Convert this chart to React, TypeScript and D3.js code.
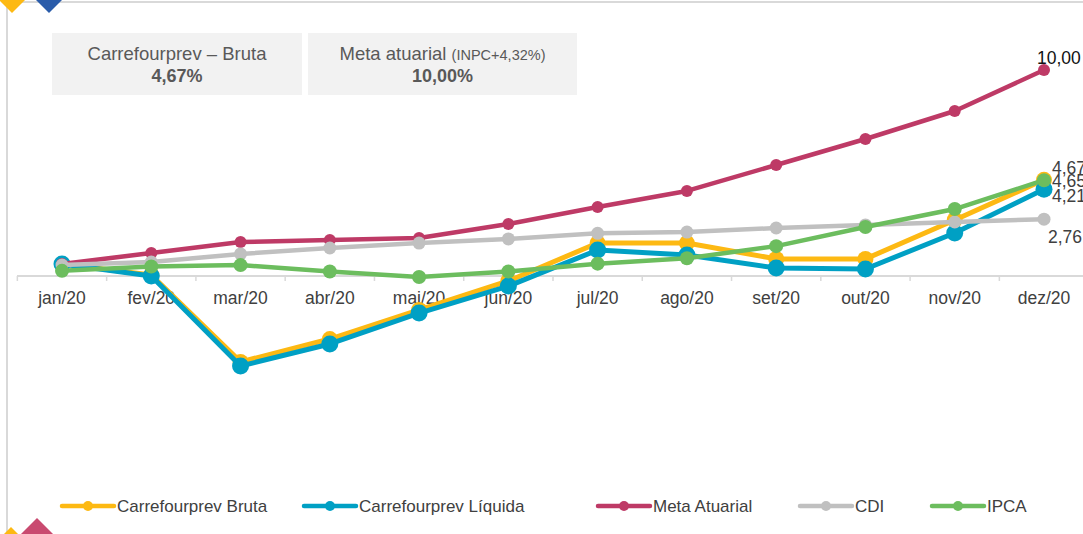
import React, { useEffect, useRef } from 'react';
import * as d3 from 'd3';

const months = ['jan/20', 'fev/20', 'mar/20', 'abr/20', 'mai/20', 'jun/20', 'jul/20', 'ago/20', 'set/20', 'out/20', 'nov/20', 'dez/20'];
const bruta = [0.58, 0.05, -4.17, -3.06, -1.65, -0.24, 1.6, 1.6, 0.83, 0.83, 2.72, 4.67];
const liquida = [0.58, 0.0, -4.37, -3.3, -1.8, -0.49, 1.26, 1.02, 0.39, 0.34, 2.09, 4.21];
const meta = [0.58, 1.12, 1.65, 1.75, 1.84, 2.52, 3.35, 4.13, 5.39, 6.65, 8.01, 10.0];
const cdi = [0.53, 0.68, 1.07, 1.36, 1.6, 1.8, 2.07, 2.13, 2.33, 2.48, 2.62, 2.76];
const ipca = [0.25, 0.46, 0.53, 0.22, -0.05, 0.22, 0.6, 0.86, 1.45, 2.38, 3.25, 4.65];
const endLabels = ['4,67', '4,21', '10,00', '2,76', '4,65'];

const series = [
  { name: 'Carrefourprev Bruta', values: bruta, color: '#FDB913', r: 8, w: 5 },
  { name: 'Carrefourprev Líquida', values: liquida, color: '#00A0C4', r: 8.5, w: 5 },
  { name: 'Meta Atuarial', values: meta, color: '#BE3A66', r: 6, w: 4.5 },
  { name: 'CDI', values: cdi, color: '#C0C0C0', r: 6.5, w: 4.5 },
  { name: 'IPCA', values: ipca, color: '#6CBD5E', r: 7, w: 4.5 },
];

export default function App() {
  const ref = useRef<SVGSVGElement>(null);

  useEffect(() => {
    const svg = d3.select(ref.current);
    svg.selectAll('*').remove();
    const font = 'Liberation Sans, Arial, sans-serif';

    // frame
    svg.append('line').attr('x1', 7).attr('x2', 7).attr('y1', 2).attr('y2', 534).attr('stroke', '#d9d9d9').attr('stroke-width', 2);
    svg.append('line').attr('x1', 7).attr('x2', 1083).attr('y1', 2).attr('y2', 2).attr('stroke', '#d9d9d9').attr('stroke-width', 2);

    // corner decorations
    const diamond = (cx: number, cy: number, s: number, fill: string) =>
      svg.append('path').attr('d', `M${cx},${cy - s}L${cx + s},${cy}L${cx},${cy + s}L${cx - s},${cy}Z`).attr('fill', fill);
    diamond(12, -1, 14, '#FDB913');
    diamond(49, -1, 14, '#2A5CAA');
    diamond(11, 534, 7, '#FDB913');
    diamond(37, 534, 16, '#C94A70');

    const x = d3.scalePoint<string>().domain(months).range([62, 1044]);
    const y = d3.scaleLinear().domain([0, 10]).range([276, 70]);
    const step = x.step();

    // category axis
    const ax = svg.append('g');
    ax.append('line').attr('x1', 17).attr('x2', 1083).attr('y1', y(0)).attr('y2', y(0)).attr('stroke', '#d9d9d9').attr('stroke-width', 2);
    ax.selectAll('.tk').data(d3.range(months.length + 1)).join('line')
      .attr('x1', (i) => 62 - step / 2 + i * step).attr('x2', (i) => 62 - step / 2 + i * step)
      .attr('y1', y(0)).attr('y2', y(0) + 5).attr('stroke', '#d9d9d9').attr('stroke-width', 1.5);
    ax.selectAll('.lb').data(months).join('text')
      .attr('x', (d) => x(d)!).attr('y', y(0) + 28).attr('text-anchor', 'middle')
      .attr('font-family', font).attr('font-size', 17.5).attr('fill', '#404040').text((d) => d);

    // lines
    const line = d3.line<number>().x((_, i) => x(months[i])!).y((d) => y(d));
    series.forEach((s) => {
      const g = svg.append('g');
      g.append('path').attr('d', line(s.values)).attr('fill', 'none').attr('stroke', s.color)
        .attr('stroke-width', s.w).attr('stroke-linejoin', 'round');
      g.selectAll('circle').data(s.values).join('circle')
        .attr('cx', (_, i) => x(months[i])!).attr('cy', (d) => y(d)).attr('r', s.r).attr('fill', s.color);
    });

    // end labels
    const lab = svg.append('g').attr('font-family', font).attr('font-size', 17.5).attr('fill', '#404040');
    lab.append('text').attr('x', 1037).attr('y', y(meta[11]) - 6).attr('fill', '#111').text(endLabels[2]);
    lab.append('text').attr('x', 1052).attr('y', y(bruta[11]) - 6).text(endLabels[0]);
    lab.append('text').attr('x', 1052).attr('y', y(ipca[11]) + 7).text(endLabels[4]);
    lab.append('text').attr('x', 1052).attr('y', y(liquida[11]) + 13).text(endLabels[1]);
    lab.append('text').attr('x', 1048).attr('y', y(cdi[11]) + 24).text(endLabels[3]);

    // summary boxes
    const boxes = [
      { x: 52, w: 250, title: 'Carrefourprev – Bruta', sub: '', value: '4,67%' },
      { x: 308, w: 269, title: 'Meta atuarial ', sub: '(INPC+4,32%)', value: '10,00%' },
    ];
    boxes.forEach((b) => {
      svg.append('rect').attr('x', b.x).attr('y', 33).attr('width', b.w).attr('height', 62).attr('fill', '#F2F2F2');
      const t = svg.append('text').attr('x', b.x + b.w / 2).attr('y', 60).attr('text-anchor', 'middle')
        .attr('font-family', font).attr('font-size', 18.5).attr('fill', '#595959');
      t.append('tspan').text(b.title);
      if (b.sub) t.append('tspan').attr('font-size', 14.5).text(b.sub);
      svg.append('text').attr('x', b.x + b.w / 2).attr('y', 82).attr('text-anchor', 'middle')
        .attr('font-family', font).attr('font-size', 18).attr('font-weight', 'bold').attr('fill', '#595959').text(b.value);
    });

    // legend
    const legX = [62, 304, 598, 800, 932];
    series.forEach((s, i) => {
      const g = svg.append('g').attr('transform', `translate(${legX[i]},506)`);
      g.append('line').attr('x1', 0).attr('x2', 52).attr('y1', 0).attr('y2', 0).attr('stroke', s.color).attr('stroke-width', 4.5).attr('stroke-linecap', 'round');
      g.append('circle').attr('cx', 26).attr('cy', 0).attr('r', 5).attr('fill', s.color);
      g.append('text').attr('x', 55).attr('y', 6).attr('font-family', font).attr('font-size', 17).attr('fill', '#404040').text(s.name);
    });
  }, []);

  return (
    <svg ref={ref} width={1083} height={534} style={{ position: 'absolute', left: 0, top: 0, background: '#fff' }} />
  );
}
